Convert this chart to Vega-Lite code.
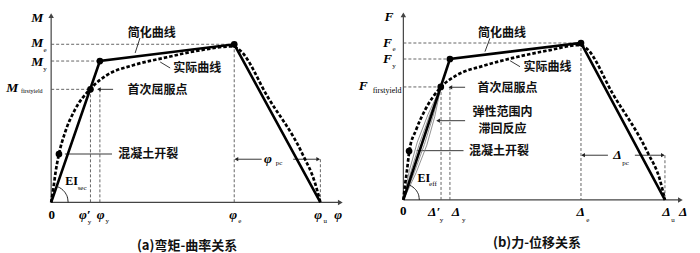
{
  "$schema": "https://vega.github.io/schema/vega-lite/v6.json",
  "padding": 0,
  "spacing": 0,
  "background": "white",
  "config": {"view": {"stroke": null}, "concat": {"spacing": 0}},
  "datasets": {
    "a": [
      {"kind": "axis", "x": 0, "y": 0, "x2": 0, "y2": 1.185},
      {"kind": "axis", "x": 0, "y": 0, "x2": 1.076, "y2": 0},
      {"kind": "arrow", "dir": "up", "x": 0, "y": 1.181},
      {"kind": "arrow", "dir": "right", "x": 1.074, "y": 0},
      {"kind": "arrs", "dir": "left", "x": 0.1775, "y": 0.715},
      {"kind": "arrs", "dir": "left", "x": 0.688, "y": 0.273},
      {"kind": "arrs", "dir": "right", "x": 0.992, "y": 0.273},
      {"kind": "ref", "x": 0, "y": 1.0, "x2": 0.68, "y2": 1.0},
      {"kind": "ref", "x": 0, "y": 0.894, "x2": 0.181, "y2": 0.894},
      {"kind": "ref", "x": 0, "y": 0.715, "x2": 0.146, "y2": 0.715},
      {"kind": "ref", "x": 0.146, "y": 0.715, "x2": 0.146, "y2": 0},
      {"kind": "ref", "x": 0.181, "y": 0.715, "x2": 0.181, "y2": 0},
      {"kind": "ref", "x": 0.68, "y": 1.0, "x2": 0.68, "y2": 0},
      {"kind": "ref", "x": 1.0, "y": 0.273, "x2": 1.0, "y2": 0},
      {"kind": "lead", "x": 0.33, "y": 1.04, "x2": 0.312, "y2": 0.945},
      {"kind": "lead", "x": 0.405, "y": 0.888, "x2": 0.442, "y2": 0.85},
      {"kind": "lead", "x": 0.175, "y": 0.715, "x2": 0.23, "y2": 0.715},
      {"kind": "lead", "x": 0.051, "y": 0.306, "x2": 0.226, "y2": 0.306},
      {"kind": "lead", "x": 0.686, "y": 0.273, "x2": 0.782, "y2": 0.273},
      {"kind": "lead", "x": 0.899, "y": 0.273, "x2": 0.994, "y2": 0.273},
      {"kind": "simp", "x": 0, "y": 0},
      {"kind": "simp", "x": 0.181, "y": 0.894},
      {"kind": "simp", "x": 0.68, "y": 1.0},
      {"kind": "simp", "x": 1.0, "y": 0},
      {"kind": "act", "x": 0, "y": 0},
      {"kind": "act", "x": 0.0085, "y": 0.091},
      {"kind": "act", "x": 0.016, "y": 0.186},
      {"kind": "act", "x": 0.029, "y": 0.306},
      {"kind": "act", "x": 0.051, "y": 0.439},
      {"kind": "act", "x": 0.088, "y": 0.585},
      {"kind": "act", "x": 0.144, "y": 0.715},
      {"kind": "act", "x": 0.207, "y": 0.805},
      {"kind": "act", "x": 0.304, "y": 0.867},
      {"kind": "act", "x": 0.43, "y": 0.918},
      {"kind": "act", "x": 0.553, "y": 0.962},
      {"kind": "act", "x": 0.675, "y": 0.987},
      {"kind": "act", "x": 0.701, "y": 0.962},
      {"kind": "act", "x": 0.805, "y": 0.665},
      {"kind": "act", "x": 0.932, "y": 0.311},
      {"kind": "act", "x": 0.98, "y": 0.123},
      {"kind": "act", "x": 1.0, "y": 0},
      {"kind": "pt", "x": 0.029, "y": 0.306},
      {"kind": "pt", "x": 0.146, "y": 0.715},
      {"kind": "pt", "x": 0.181, "y": 0.894},
      {"kind": "pt", "x": 0.68, "y": 1.0},
      {"kind": "arc", "x": 0.0632, "y": 0},
      {"kind": "arc", "x": 0.061, "y": 0.0278},
      {"kind": "arc", "x": 0.0547, "y": 0.0538},
      {"kind": "arc", "x": 0.0447, "y": 0.076},
      {"kind": "arc", "x": 0.0316, "y": 0.0931},
      {"kind": "arc", "x": 0.0205, "y": 0.1016},
      {"kind": "cn", "x": 0.374, "y": 1.072, "text": "简化曲线"},
      {"kind": "cn", "x": 0.543, "y": 0.85, "text": "实际曲线"},
      {"kind": "cn", "x": 0.395, "y": 0.712, "text": "首次屈服点"},
      {"kind": "cn", "x": 0.361, "y": 0.306, "text": "混凝土开裂"},
      {"kind": "cap", "x": 0.505, "y": -0.276, "text": "(a)弯矩-曲率关系"},
      {"kind": "big", "x": -0.052, "y": 1.164, "text": "M"},
      {"kind": "big", "x": -0.052, "y": 1.01, "text": "M"},
      {"kind": "big", "x": -0.052, "y": 0.89, "text": "M"},
      {"kind": "big", "x": -0.1445, "y": 0.722, "text": "M"},
      {"kind": "big", "x": 0.125, "y": -0.08, "text": "φ′"},
      {"kind": "big", "x": 0.184, "y": -0.08, "text": "φ"},
      {"kind": "big", "x": 0.676, "y": -0.08, "text": "φ"},
      {"kind": "big", "x": 0.992, "y": -0.08, "text": "φ"},
      {"kind": "big", "x": 1.066, "y": -0.08, "text": "φ"},
      {"kind": "big", "x": 0.805, "y": 0.273, "text": "φ"},
      {"kind": "num", "x": 0.002, "y": -0.08, "text": "0"},
      {"kind": "ei", "x": 0.076, "y": 0.135, "text": "EI"},
      {"kind": "sub", "x": -0.023, "y": 0.962, "text": "e"},
      {"kind": "sub", "x": -0.023, "y": 0.844, "text": "y"},
      {"kind": "sub", "x": 0.142, "y": -0.122, "text": "y"},
      {"kind": "sub", "x": 0.208, "y": -0.118, "text": "y"},
      {"kind": "sub", "x": 0.701, "y": -0.118, "text": "e"},
      {"kind": "sub", "x": 1.018, "y": -0.118, "text": "u"},
      {"kind": "sub", "x": 0.846, "y": 0.25, "text": "pc"},
      {"kind": "sub", "x": 0.115, "y": 0.089, "text": "sec"},
      {"kind": "subsmall", "x": -0.072, "y": 0.705, "text": "firstyield"}
    ],
    "b": [
      {"kind": "axis", "x": 0, "y": 0, "x2": 0, "y2": 1.183},
      {"kind": "axis", "x": 0, "y": 0, "x2": 1.06, "y2": 0},
      {"kind": "arrow", "dir": "up", "x": 0, "y": 1.18},
      {"kind": "arrow", "dir": "right", "x": 1.059, "y": 0},
      {"kind": "arrs", "dir": "left", "x": 0.1797, "y": 0.718},
      {"kind": "arrs", "dir": "left", "x": 0.1327, "y": 0.505},
      {"kind": "arrs", "dir": "left", "x": 0.687, "y": 0.285},
      {"kind": "arrs", "dir": "right", "x": 0.992, "y": 0.285},
      {"kind": "ref", "x": 0, "y": 1.0, "x2": 0.679, "y2": 1.0},
      {"kind": "ref", "x": 0, "y": 0.898, "x2": 0.178, "y2": 0.898},
      {"kind": "ref", "x": 0, "y": 0.72, "x2": 0.144, "y2": 0.72},
      {"kind": "ref", "x": 0.144, "y": 0.72, "x2": 0.144, "y2": 0},
      {"kind": "ref", "x": 0.178, "y": 0.72, "x2": 0.178, "y2": 0},
      {"kind": "ref", "x": 0.679, "y": 1.0, "x2": 0.679, "y2": 0},
      {"kind": "ref", "x": 1.0, "y": 0.285, "x2": 1.0, "y2": 0},
      {"kind": "lead", "x": 0.331, "y": 1.03, "x2": 0.312, "y2": 0.945},
      {"kind": "lead", "x": 0.408, "y": 0.887, "x2": 0.446, "y2": 0.849},
      {"kind": "lead", "x": 0.178, "y": 0.718, "x2": 0.236, "y2": 0.718},
      {"kind": "lead", "x": 0.131, "y": 0.505, "x2": 0.236, "y2": 0.505},
      {"kind": "lead", "x": 0.051, "y": 0.314, "x2": 0.23, "y2": 0.314},
      {"kind": "lead", "x": 0.685, "y": 0.285, "x2": 0.782, "y2": 0.285},
      {"kind": "lead", "x": 0.885, "y": 0.285, "x2": 0.994, "y2": 0.285},
      {"kind": "hyst", "loop": 1, "i": 0, "x": 0, "y": 0},
      {"kind": "hyst", "loop": 1, "i": 1, "x": 0.0229, "y": 0.1867},
      {"kind": "hyst", "loop": 1, "i": 2, "x": 0.0533, "y": 0.3689},
      {"kind": "hyst", "loop": 1, "i": 3, "x": 0.0943, "y": 0.5453},
      {"kind": "hyst", "loop": 1, "i": 4, "x": 0.143, "y": 0.718},
      {"kind": "hyst", "loop": 1, "i": 5, "x": 0.12, "y": 0.5311},
      {"kind": "hyst", "loop": 1, "i": 6, "x": 0.0896, "y": 0.3489},
      {"kind": "hyst", "loop": 1, "i": 7, "x": 0.0486, "y": 0.1725},
      {"kind": "hyst", "loop": 1, "i": 8, "x": 0, "y": 0},
      {"kind": "hyst", "loop": 2, "i": 0, "x": 0, "y": 0},
      {"kind": "hyst", "loop": 2, "i": 1, "x": 0.0293, "y": 0.1832},
      {"kind": "hyst", "loop": 2, "i": 2, "x": 0.0624, "y": 0.364},
      {"kind": "hyst", "loop": 2, "i": 3, "x": 0.1008, "y": 0.5418},
      {"kind": "hyst", "loop": 2, "i": 4, "x": 0.143, "y": 0.718},
      {"kind": "hyst", "loop": 2, "i": 5, "x": 0.1136, "y": 0.5346},
      {"kind": "hyst", "loop": 2, "i": 6, "x": 0.0805, "y": 0.3539},
      {"kind": "hyst", "loop": 2, "i": 7, "x": 0.0421, "y": 0.1761},
      {"kind": "hyst", "loop": 2, "i": 8, "x": 0, "y": 0},
      {"kind": "simp", "x": 0, "y": 0},
      {"kind": "simp", "x": 0.178, "y": 0.898},
      {"kind": "simp", "x": 0.679, "y": 1.0},
      {"kind": "simp", "x": 1.0, "y": 0},
      {"kind": "act", "x": 0, "y": 0},
      {"kind": "act", "x": 0.0065, "y": 0.0955},
      {"kind": "act", "x": 0.014, "y": 0.191},
      {"kind": "act", "x": 0.023, "y": 0.314},
      {"kind": "act", "x": 0.0485, "y": 0.446},
      {"kind": "act", "x": 0.083, "y": 0.573},
      {"kind": "act", "x": 0.143, "y": 0.718},
      {"kind": "act", "x": 0.205, "y": 0.796},
      {"kind": "act", "x": 0.305, "y": 0.854},
      {"kind": "act", "x": 0.434, "y": 0.911},
      {"kind": "act", "x": 0.561, "y": 0.955},
      {"kind": "act", "x": 0.671, "y": 0.987},
      {"kind": "act", "x": 0.698, "y": 0.968},
      {"kind": "act", "x": 0.801, "y": 0.675},
      {"kind": "act", "x": 0.935, "y": 0.299},
      {"kind": "act", "x": 0.981, "y": 0.127},
      {"kind": "act", "x": 1.0, "y": 0},
      {"kind": "pt", "x": 0.0218, "y": 0.312},
      {"kind": "pt", "x": 0.143, "y": 0.72},
      {"kind": "pt", "x": 0.178, "y": 0.898},
      {"kind": "pt", "x": 0.679, "y": 1.0},
      {"kind": "arc", "x": 0.0611, "y": 0},
      {"kind": "arc", "x": 0.059, "y": 0.0264},
      {"kind": "arc", "x": 0.053, "y": 0.051},
      {"kind": "arc", "x": 0.0432, "y": 0.072},
      {"kind": "arc", "x": 0.0306, "y": 0.0883},
      {"kind": "arc", "x": 0.0199, "y": 0.0964},
      {"kind": "cn", "x": 0.377, "y": 1.064, "text": "简化曲线"},
      {"kind": "cn", "x": 0.551, "y": 0.849, "text": "实际曲线"},
      {"kind": "cn", "x": 0.398, "y": 0.716, "text": "首次屈服点"},
      {"kind": "cn", "x": 0.379, "y": 0.56, "text": "弹性范围内"},
      {"kind": "cn", "x": 0.379, "y": 0.455, "text": "滞回反应"},
      {"kind": "cn", "x": 0.366, "y": 0.314, "text": "混凝土开裂"},
      {"kind": "cap", "x": 0.511, "y": -0.274, "text": "(b)力-位移关系"},
      {"kind": "big", "x": -0.055, "y": 1.166, "text": "F"},
      {"kind": "big", "x": -0.061, "y": 1.002, "text": "F"},
      {"kind": "big", "x": -0.061, "y": 0.896, "text": "F"},
      {"kind": "big", "x": -0.153, "y": 0.726, "text": "F"},
      {"kind": "big", "x": 0.118, "y": -0.075, "text": "Δ′"},
      {"kind": "big", "x": 0.201, "y": -0.075, "text": "Δ"},
      {"kind": "big", "x": 0.678, "y": -0.075, "text": "Δ"},
      {"kind": "big", "x": 1.006, "y": -0.075, "text": "Δ"},
      {"kind": "big", "x": 1.07, "y": -0.075, "text": "Δ"},
      {"kind": "big", "x": 0.819, "y": 0.287, "text": "Δ"},
      {"kind": "num", "x": 0, "y": -0.068, "text": "0"},
      {"kind": "ei", "x": 0.078, "y": 0.138, "text": "EI"},
      {"kind": "sub", "x": -0.0355, "y": 0.96, "text": "e"},
      {"kind": "sub", "x": -0.0355, "y": 0.854, "text": "y"},
      {"kind": "sub", "x": 0.146, "y": -0.13, "text": "y"},
      {"kind": "sub", "x": 0.231, "y": -0.126, "text": "y"},
      {"kind": "sub", "x": 0.705, "y": -0.126, "text": "e"},
      {"kind": "sub", "x": 1.031, "y": -0.128, "text": "u"},
      {"kind": "sub", "x": 0.849, "y": 0.236, "text": "pc"},
      {"kind": "sub", "x": 0.113, "y": 0.104, "text": "eff"},
      {"kind": "subsmall", "x": -0.062, "y": 0.694, "text": "firstyield"}
    ]
  },
  "hconcat": [
    {
      "width": 350,
      "height": 253,
      "data": {"name": "a"},
      "encoding": {
        "x": {"field": "x", "type": "quantitative", "scale": {"domain": [-0.19, 1.11], "nice": false, "zero": false}, "axis": null},
        "y": {"field": "y", "type": "quantitative", "scale": {"domain": [-0.32, 1.28], "nice": false, "zero": false}, "axis": null}
      },
      "layer": [
        {"transform": [{"filter": "datum.kind === 'axis'"}], "mark": {"type": "rule", "color": "#444", "strokeWidth": 1.2}, "encoding": {"x2": {"field": "x2"}, "y2": {"field": "y2"}}},
        {"transform": [{"filter": "datum.kind === 'ref'"}], "mark": {"type": "rule", "color": "#555", "strokeWidth": 0.9, "strokeDash": [3, 2]}, "encoding": {"x2": {"field": "x2"}, "y2": {"field": "y2"}}},
        {"transform": [{"filter": "datum.kind === 'lead'"}], "mark": {"type": "rule", "color": "#222", "strokeWidth": 0.9}, "encoding": {"x2": {"field": "x2"}, "y2": {"field": "y2"}}},
        {"transform": [{"filter": "datum.kind === 'arrow'"}], "mark": {"type": "point", "filled": true, "opacity": 1, "color": "#444", "size": 30}, "encoding": {"shape": {"field": "dir", "type": "nominal", "scale": {"domain": ["left", "right", "up"], "range": ["triangle-left", "triangle-right", "triangle-up"]}, "legend": null}}},
        {"transform": [{"filter": "datum.kind === 'arrs'"}], "mark": {"type": "point", "filled": true, "opacity": 1, "color": "#222", "size": 18}, "encoding": {"shape": {"field": "dir", "type": "nominal", "scale": {"domain": ["left", "right", "up"], "range": ["triangle-left", "triangle-right", "triangle-up"]}, "legend": null}}},
        {"transform": [{"filter": "datum.kind === 'act'"}], "mark": {"type": "line", "color": "black", "strokeWidth": 2.7, "strokeDash": [3.5, 2], "interpolate": "monotone"}},
        {"transform": [{"filter": "datum.kind === 'simp'"}], "mark": {"type": "line", "color": "black", "strokeWidth": 2.6}},
        {"transform": [{"filter": "datum.kind === 'pt'"}], "mark": {"type": "circle", "color": "black", "opacity": 1, "size": 45}},
        {"transform": [{"filter": "datum.kind === 'arc'"}], "mark": {"type": "line", "color": "#222", "strokeWidth": 1, "interpolate": "monotone"}},
        {"transform": [{"filter": "datum.kind === 'cn'"}], "mark": {"type": "text", "font": "Noto Sans CJK SC", "fontSize": 12, "fontWeight": "bold", "baseline": "middle", "align": "center", "color": "#111"}, "encoding": {"text": {"field": "text"}}},
        {"transform": [{"filter": "datum.kind === 'cap'"}], "mark": {"type": "text", "font": "Noto Sans CJK SC", "fontSize": 13, "fontWeight": "bold", "baseline": "middle", "align": "center", "color": "#111"}, "encoding": {"text": {"field": "text"}}},
        {"transform": [{"filter": "datum.kind === 'big'"}], "mark": {"type": "text", "font": "Liberation Serif", "fontSize": 13.5, "fontWeight": "bold", "fontStyle": "italic", "baseline": "middle", "align": "center", "color": "black"}, "encoding": {"text": {"field": "text"}}},
        {"transform": [{"filter": "datum.kind === 'num'"}], "mark": {"type": "text", "font": "Liberation Serif", "fontSize": 13, "fontWeight": "bold", "baseline": "middle", "align": "center", "color": "black"}, "encoding": {"text": {"field": "text"}}},
        {"transform": [{"filter": "datum.kind === 'ei'"}], "mark": {"type": "text", "font": "Liberation Serif", "fontSize": 12, "fontWeight": "bold", "baseline": "middle", "align": "center", "color": "black"}, "encoding": {"text": {"field": "text"}}},
        {"transform": [{"filter": "datum.kind === 'sub'"}], "mark": {"type": "text", "font": "Liberation Serif", "fontSize": 7, "baseline": "middle", "align": "center", "color": "black"}, "encoding": {"text": {"field": "text"}}},
        {"transform": [{"filter": "datum.kind === 'subsmall'"}], "mark": {"type": "text", "font": "Liberation Serif", "fontSize": 6, "baseline": "middle", "align": "center", "color": "black"}, "encoding": {"text": {"field": "text"}}}
      ]
    },
    {
      "width": 350,
      "height": 253,
      "data": {"name": "b"},
      "encoding": {
        "x": {"field": "x", "type": "quantitative", "scale": {"domain": [-0.204, 1.134], "nice": false, "zero": false}, "axis": null},
        "y": {"field": "y", "type": "quantitative", "scale": {"domain": [-0.338, 1.274], "nice": false, "zero": false}, "axis": null}
      },
      "layer": [
        {"transform": [{"filter": "datum.kind === 'axis'"}], "mark": {"type": "rule", "color": "#444", "strokeWidth": 1.2}, "encoding": {"x2": {"field": "x2"}, "y2": {"field": "y2"}}},
        {"transform": [{"filter": "datum.kind === 'ref'"}], "mark": {"type": "rule", "color": "#555", "strokeWidth": 0.9, "strokeDash": [3, 2]}, "encoding": {"x2": {"field": "x2"}, "y2": {"field": "y2"}}},
        {"transform": [{"filter": "datum.kind === 'lead'"}], "mark": {"type": "rule", "color": "#222", "strokeWidth": 0.9}, "encoding": {"x2": {"field": "x2"}, "y2": {"field": "y2"}}},
        {"transform": [{"filter": "datum.kind === 'arrow'"}], "mark": {"type": "point", "filled": true, "opacity": 1, "color": "#444", "size": 30}, "encoding": {"shape": {"field": "dir", "type": "nominal", "scale": {"domain": ["left", "right", "up"], "range": ["triangle-left", "triangle-right", "triangle-up"]}, "legend": null}}},
        {"transform": [{"filter": "datum.kind === 'arrs'"}], "mark": {"type": "point", "filled": true, "opacity": 1, "color": "#222", "size": 18}, "encoding": {"shape": {"field": "dir", "type": "nominal", "scale": {"domain": ["left", "right", "up"], "range": ["triangle-left", "triangle-right", "triangle-up"]}, "legend": null}}},
        {"transform": [{"filter": "datum.kind === 'hyst'"}], "mark": {"type": "line", "color": "#777", "strokeWidth": 0.8}, "encoding": {"order": {"field": "i", "type": "quantitative"}, "detail": {"field": "loop", "type": "nominal"}}},
        {"transform": [{"filter": "datum.kind === 'act'"}], "mark": {"type": "line", "color": "black", "strokeWidth": 2.7, "strokeDash": [3.5, 2], "interpolate": "monotone"}},
        {"transform": [{"filter": "datum.kind === 'simp'"}], "mark": {"type": "line", "color": "black", "strokeWidth": 2.6}},
        {"transform": [{"filter": "datum.kind === 'pt'"}], "mark": {"type": "circle", "color": "black", "opacity": 1, "size": 45}},
        {"transform": [{"filter": "datum.kind === 'arc'"}], "mark": {"type": "line", "color": "#222", "strokeWidth": 1, "interpolate": "monotone"}},
        {"transform": [{"filter": "datum.kind === 'cn'"}], "mark": {"type": "text", "font": "Noto Sans CJK SC", "fontSize": 12, "fontWeight": "bold", "baseline": "middle", "align": "center", "color": "#111"}, "encoding": {"text": {"field": "text"}}},
        {"transform": [{"filter": "datum.kind === 'cap'"}], "mark": {"type": "text", "font": "Noto Sans CJK SC", "fontSize": 13, "fontWeight": "bold", "baseline": "middle", "align": "center", "color": "#111"}, "encoding": {"text": {"field": "text"}}},
        {"transform": [{"filter": "datum.kind === 'big'"}], "mark": {"type": "text", "font": "Liberation Serif", "fontSize": 13.5, "fontWeight": "bold", "fontStyle": "italic", "baseline": "middle", "align": "center", "color": "black"}, "encoding": {"text": {"field": "text"}}},
        {"transform": [{"filter": "datum.kind === 'num'"}], "mark": {"type": "text", "font": "Liberation Serif", "fontSize": 13, "fontWeight": "bold", "baseline": "middle", "align": "center", "color": "black"}, "encoding": {"text": {"field": "text"}}},
        {"transform": [{"filter": "datum.kind === 'ei'"}], "mark": {"type": "text", "font": "Liberation Serif", "fontSize": 12, "fontWeight": "bold", "baseline": "middle", "align": "center", "color": "black"}, "encoding": {"text": {"field": "text"}}},
        {"transform": [{"filter": "datum.kind === 'sub'"}], "mark": {"type": "text", "font": "Liberation Serif", "fontSize": 7, "baseline": "middle", "align": "center", "color": "black"}, "encoding": {"text": {"field": "text"}}},
        {"transform": [{"filter": "datum.kind === 'subsmall'"}], "mark": {"type": "text", "font": "Liberation Serif", "fontSize": 8, "baseline": "middle", "align": "center", "color": "black"}, "encoding": {"text": {"field": "text"}}}
      ]
    }
  ]
}
